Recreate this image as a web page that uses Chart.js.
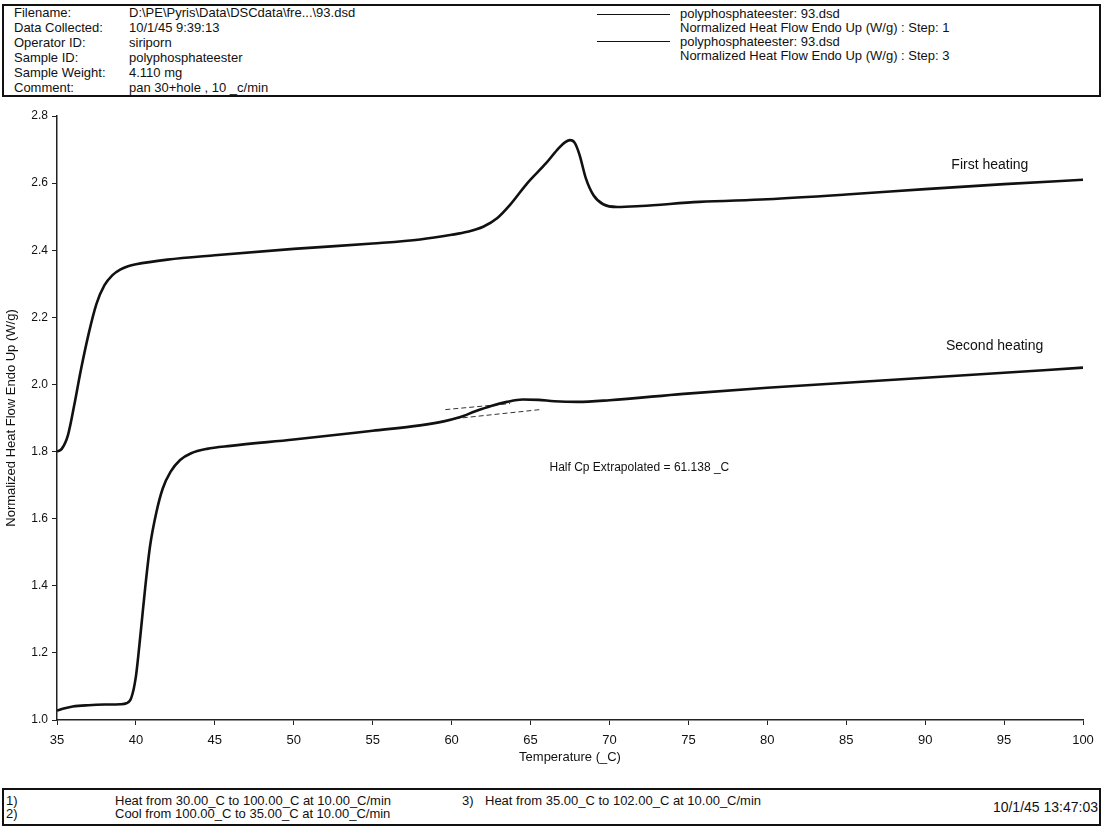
<!DOCTYPE html>
<html>
<head>
<meta charset="utf-8">
<script src="https://cdn.jsdelivr.net/npm/chart.js@4.4.0/dist/chart.umd.min.js"></script>
<style>
body{margin:0;width:1107px;height:833px;background:#fff;font-family:"Liberation Sans",Arial,sans-serif;color:#111;position:relative;overflow:hidden}
.box{position:absolute;border:2.5px solid #111;box-sizing:border-box}
#head{left:2px;top:4px;width:1099px;height:93px}
#foot{left:2px;top:788px;width:1099px;height:38px}
.t{position:absolute;font-size:13px;line-height:14px;white-space:nowrap}
.ln{position:absolute;height:0;border-top:1.5px solid #111}
#wrap{position:absolute;left:0;top:100px;width:1107px;height:680px}
</style>
</head>
<body>
<div class="box" id="head"></div>
<div class="t" style="left:14px;top:6px">Filename:</div>
<div class="t" style="left:14px;top:21px">Data Collected:</div>
<div class="t" style="left:14px;top:36px">Operator ID:</div>
<div class="t" style="left:14px;top:51px">Sample ID:</div>
<div class="t" style="left:14px;top:66px">Sample Weight:</div>
<div class="t" style="left:14px;top:81px">Comment:</div>
<div class="t" style="left:129px;top:6px">D:\PE\Pyris\Data\DSCdata\fre...\93.dsd</div>
<div class="t" style="left:129px;top:21px">10/1/45 9:39:13</div>
<div class="t" style="left:129px;top:36px">siriporn</div>
<div class="t" style="left:129px;top:51px">polyphosphateester</div>
<div class="t" style="left:129px;top:66px">4.110 mg</div>
<div class="t" style="left:129px;top:81px">pan 30+hole , 10 _c/min</div>

<div class="ln" style="left:597px;top:14px;width:73px"></div>
<div class="ln" style="left:597px;top:41px;width:73px"></div>
<div class="t" style="left:680px;top:7px">polyphosphateester: 93.dsd</div>
<div class="t" style="left:680px;top:21px">Normalized Heat Flow Endo Up (W/g) : Step: 1</div>
<div class="t" style="left:680px;top:35px">polyphosphateester: 93.dsd</div>
<div class="t" style="left:680px;top:49px">Normalized Heat Flow Endo Up (W/g) : Step: 3</div>

<div id="wrap"><canvas id="dsc"></canvas></div>

<div class="box" id="foot"></div>
<div class="t" style="left:6px;top:794px">1)</div>
<div class="t" style="left:6px;top:807px">2)</div>
<div class="t" style="left:115px;top:794px">Heat from 30.00_C to 100.00_C at 10.00_C/min</div>
<div class="t" style="left:115px;top:807px">Cool from 100.00_C to 35.00_C at 10.00_C/min</div>
<div class="t" style="left:462px;top:794px">3)</div>
<div class="t" style="left:485px;top:794px">Heat from 35.00_C to 102.00_C at 10.00_C/min</div>
<div class="t" style="right:9px;top:800px;font-size:14px">10/1/45 13:47:03</div>

<script>
// DSC traces: temperature (_C) and heat flow (W/g)
const firstT = [35.0,35.3,35.7,36.1,36.5,37.0,37.5,38.0,38.5,39.0,39.5,40,42,45,50,55,58,60,61,62,62.9,63.7,64.8,66.0,66.8,67.2,67.5,67.8,68.1,68.5,69.0,69.6,70.5,72,75.7,80,85,90,95,100];
const firstHF = [1.800,1.808,1.850,1.940,2.040,2.150,2.240,2.295,2.325,2.342,2.352,2.358,2.372,2.385,2.404,2.420,2.432,2.446,2.455,2.470,2.496,2.535,2.600,2.660,2.705,2.722,2.728,2.720,2.685,2.615,2.563,2.537,2.529,2.532,2.544,2.552,2.566,2.582,2.597,2.610];

const secondT = [35.0,35.5,36.0,37.0,38.0,39.0,39.4,39.7,40.0,40.3,40.6,40.9,41.3,41.7,42.2,42.8,43.5,44.5,46.0,50.0,55.0,58.0,59.5,60.5,61.5,62.5,63.5,64.5,65.5,66.5,68.0,70.0,74.7,80.0,86.0,90.0,95.0,100.0];
const secondHF = [1.028,1.035,1.040,1.044,1.046,1.047,1.050,1.065,1.130,1.260,1.400,1.520,1.620,1.690,1.740,1.775,1.795,1.808,1.817,1.836,1.862,1.878,1.890,1.902,1.920,1.936,1.948,1.955,1.954,1.950,1.948,1.953,1.972,1.990,2.008,2.020,2.035,2.050];

// extrapolated baselines around the Tg step
const tanUpperT = [59.6, 63.7];
const tanUpperHF = [1.925, 1.943];
const tanLowerT = [60.2, 65.6];
const tanLowerHF = [1.898, 1.925];

const xTicks = [35,40,45,50,55,60,65,70,75,80,85,90,95,100];
const yTicks = [1.0,1.2,1.4,1.6,1.8,2.0,2.2,2.4,2.6,2.8];

const pts = (xs, ys) => xs.map((x,i)=>({x, y: ys[i]}));
const FONT = '"Liberation Sans", Arial, sans-serif';

// text labels placed in data units
const notes = {
  id: 'notes',
  afterDatasetsDraw(chart){
    const {ctx, scales:{x, y}} = chart;
    const put = (txt, tx, ty, size, align) => {
      ctx.save();
      ctx.font = size + 'px ' + FONT;
      ctx.fillStyle = '#111';
      ctx.textAlign = align;
      ctx.textBaseline = 'middle';
      ctx.fillText(txt, x.getPixelForValue(tx), y.getPixelForValue(ty));
      ctx.restore();
    };
    put('First heating', 94.1, 2.654, 14, 'center');
    put('Second heating', 94.4, 2.115, 14, 'center');
    put('Half Cp Extrapolated = 61.138 _C', 66.2, 1.751, 12, 'left');
  }
};

const curve = (data) => ({
  data, borderColor:'#111', borderWidth:2.6, pointRadius:0,
  cubicInterpolationMode:'monotone', fill:false
});
const dashed = (data) => ({
  data, borderColor:'#333', borderWidth:1, borderDash:[5,3], pointRadius:0, fill:false
});

new Chart(document.getElementById('dsc'), {
  type: 'line',
  data: {
    datasets: [
      curve(pts(firstT, firstHF)),
      curve(pts(secondT, secondHF)),
      dashed(pts(tanUpperT, tanUpperHF)),
      dashed(pts(tanLowerT, tanLowerHF))
    ]
  },
  options: {
    responsive: true,
    maintainAspectRatio: false,
    animation: false,
    layout: { padding: { top: 16, right: 24, left: 0, bottom: 0 } },
    plugins: { legend: { display: false }, tooltip: { enabled: false } },
    scales: {
      x: {
        type: 'linear', min: 35, max: 100,
        afterFit(s){ s.height = 60; },
        afterBuildTicks(s){ s.ticks = xTicks.map(v=>({value:v})); },
        ticks: { color:'#111', font:{ family: FONT, size: 13 }, padding: 8 },
        grid: { drawOnChartArea:false, drawTicks:true, tickLength:5, color:'#222' },
        border: { color:'#222', width:1.5 },
        title: { display:true, text:'Temperature (_C)', color:'#111',
                 font:{ family: FONT, size: 13 }, padding:{ top:0, bottom:15 } }
      },
      y: {
        min: 1.0, max: 2.8,
        afterFit(s){ s.width = 57; },
        afterBuildTicks(s){ s.ticks = yTicks.map(v=>({value:v})); },
        ticks: { color:'#111', font:{ family: FONT, size: 12 }, padding: 4,
                 callback: v => v.toFixed(1) },
        grid: { drawOnChartArea:false, drawTicks:true, tickLength:5, color:'#222' },
        border: { color:'#222', width:1.5 },
        title: { display:true, text:'Normalized Heat Flow Endo Up (W/g)', color:'#111',
                 font:{ family: FONT, size: 13 }, padding:{ top:4, bottom:0 } }
      }
    }
  },
  plugins: [notes]
});
</script>
</body>
</html>
